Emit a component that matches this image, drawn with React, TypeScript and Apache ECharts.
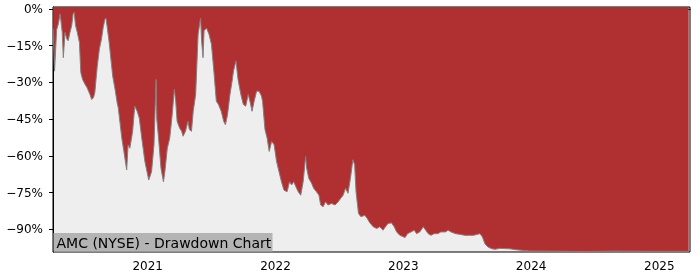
import React, { useEffect, useRef } from "react";
import * as echarts from "echarts";

const dates: string[] = [
  "2020-04-06", "2020-04-10", "2020-04-16", "2020-04-21", "2020-04-26", "2020-04-28", "2020-05-02", "2020-05-05",
  "2020-05-08", "2020-05-10", "2020-05-15", "2020-05-19", "2020-05-24", "2020-05-29", "2020-06-02", "2020-06-05",
  "2020-06-09", "2020-06-14", "2020-06-20", "2020-06-24", "2020-06-29", "2020-07-06", "2020-07-12", "2020-07-20",
  "2020-07-25", "2020-07-30", "2020-08-03", "2020-08-10", "2020-08-16", "2020-08-22", "2020-08-27", "2020-09-01",
  "2020-09-04", "2020-09-08", "2020-09-13", "2020-09-17", "2020-09-23", "2020-09-30", "2020-10-06", "2020-10-09",
  "2020-10-19", "2020-10-25", "2020-11-02", "2020-11-06", "2020-11-11", "2020-11-19", "2020-11-25", "2020-12-02",
  "2020-12-08", "2020-12-15", "2020-12-24", "2021-01-04", "2021-01-12", "2021-01-19", "2021-01-22", "2021-01-25",
  "2021-01-27", "2021-02-01", "2021-02-08", "2021-02-15", "2021-02-19", "2021-02-26", "2021-03-05", "2021-03-12",
  "2021-03-18", "2021-03-22", "2021-03-26", "2021-04-02", "2021-04-08", "2021-04-12", "2021-04-19", "2021-04-26",
  "2021-04-30", "2021-05-06", "2021-05-11", "2021-05-18", "2021-05-25", "2021-06-01", "2021-06-04", "2021-06-08",
  "2021-06-11", "2021-06-18", "2021-06-25", "2021-07-02", "2021-07-09", "2021-07-16", "2021-07-22", "2021-07-30",
  "2021-08-06", "2021-08-11", "2021-08-17", "2021-08-24", "2021-08-30", "2021-09-03", "2021-09-10", "2021-09-16",
  "2021-09-24", "2021-10-01", "2021-10-08", "2021-10-15", "2021-10-20", "2021-10-26", "2021-11-01", "2021-11-08",
  "2021-11-15", "2021-11-22", "2021-11-25", "2021-12-02", "2021-12-08", "2021-12-14", "2021-12-21", "2021-12-28",
  "2022-01-04", "2022-01-11", "2022-01-18", "2022-01-25", "2022-02-03", "2022-02-10", "2022-02-16", "2022-02-22",
  "2022-02-28", "2022-03-07", "2022-03-14", "2022-03-21", "2022-03-28", "2022-03-31", "2022-04-06", "2022-04-14",
  "2022-04-20", "2022-04-28", "2022-05-05", "2022-05-10", "2022-05-17", "2022-05-24", "2022-05-31", "2022-06-10",
  "2022-06-20", "2022-06-29", "2022-07-06", "2022-07-13", "2022-07-20", "2022-07-27", "2022-08-03", "2022-08-10",
  "2022-08-15", "2022-08-19", "2022-08-26", "2022-09-02", "2022-09-13", "2022-09-20", "2022-09-27", "2022-10-07",
  "2022-10-17", "2022-10-26", "2022-11-04", "2022-11-11", "2022-11-18", "2022-11-28", "2022-12-06", "2022-12-13",
  "2022-12-22", "2023-01-03", "2023-01-06", "2023-01-13", "2023-01-23", "2023-02-01", "2023-02-08", "2023-02-17",
  "2023-02-27", "2023-03-06", "2023-03-13", "2023-03-21", "2023-03-30", "2023-04-10", "2023-04-18", "2023-05-01",
  "2023-05-09", "2023-05-17", "2023-05-30", "2023-06-12", "2023-06-26", "2023-07-10", "2023-07-20", "2023-07-31",
  "2023-08-08", "2023-08-15", "2023-08-22", "2023-08-31", "2023-09-11", "2023-09-20", "2023-10-04", "2023-11-01",
  "2023-11-20", "2023-12-28", "2024-02-15", "2024-04-01", "2024-06-10", "2024-08-22", "2024-11-26", "2025-01-20",
  "2025-03-26",
];

const drawdown: number[] = [
  -8, -25.4, -8.5, -6, -2.0, -2.0, -9.6, -19.9,
  -13.7, -9.6, -12.3, -13.0, -9.6, -6.8, -2.0, -1.4,
  -6.8, -9.6, -13.7, -26.0, -28.8, -30.8, -32.2, -34.9,
  -37.0, -36.3, -34.2, -23.3, -16.4, -12.3, -7.5, -4.1,
  -3.8, -8.2, -13.7, -19.2, -27.4, -33.0, -38.5, -40.4,
  -52.7, -58.2, -65.8, -55.5, -56.9, -50.0, -39.7, -41.8,
  -44.6, -52.7, -62.3, -69.9, -66.5, -55.5, -42.0, -28.8,
  -45.0, -52.7, -65.1, -70.6, -66.5, -56.9, -52.7, -43.2,
  -32.9, -37.7, -45.9, -48.6, -50.0, -52.0, -50.0, -45.9,
  -49.3, -50.0, -41.8, -34.9, -10.3, -3.7, -13.0, -19.9,
  -8.9, -7.8, -10.3, -14.4, -25.4, -37.7, -39.0, -41.8,
  -45.9, -47.3, -43.2, -34.9, -29.5, -25.4, -21.2, -28.8,
  -34.9, -39.0, -39.7, -34.9, -37.7, -41.8, -37.7, -33.6,
  -33.6, -35.6, -37.7, -49.3, -52.7, -58.2, -54.1, -55.5,
  -62.3, -66.5, -70.6, -74.0, -74.7, -70.6, -71.9, -70.6,
  -72.6, -74.7, -76.1, -70.6, -60.3, -65.1, -69.2, -71.2,
  -73.3, -74.7, -76.1, -80.1, -80.8, -78.8, -80.1, -79.5,
  -80.1, -78.8, -77.4, -76.1, -73.3, -75.3, -69.2, -61.6,
  -63.7, -74.7, -83.6, -84.9, -84.3, -85.6, -87.3, -89.0,
  -89.7, -89.0, -90.4, -89.0, -87.7, -87.4, -89.0, -91.1,
  -92.5, -93.2, -93.4, -91.8, -91.1, -90.4, -91.8, -91.1,
  -89.0, -90.4, -91.8, -92.5, -91.8, -91.8, -91.1, -91.1,
  -90.4, -91.1, -91.8, -92.1, -92.5, -92.5, -92.5, -92.1,
  -91.8, -93.2, -95.9, -97.3, -98.0, -98.2, -97.8, -98.0,
  -98.4, -98.9, -98.9, -99.0, -99.1, -98.9, -99.0, -99.0,
  -99.0,
];

const yearTicks: number[] = [2021, 2022, 2023, 2024, 2025];
const yTicks: number[] = [0, -15, -30, -45, -60, -75, -90];
const titleText = "AMC (NYSE) - Drawdown Chart";

const toUTC = (s: string) => {
  const [y, m, d] = s.split("-").map(Number);
  return Date.UTC(y, m - 1, d);
};

export default function App() {
  const ref = useRef<HTMLDivElement>(null);
  useEffect(() => {
    if (!ref.current) return;
    const chart = echarts.init(ref.current, null, { renderer: "svg" });
    const font = "DejaVu Sans";
    const data = dates.map((d, i) => [toUTC(d), drawdown[i]]);
    const xTickValues = yearTicks.map((y) => Date.UTC(y, 0, 1));
    chart.setOption({
      animation: false,
      grid: {
        left: 53,
        right: 10,
        top: 7,
        bottom: 28,
        show: true,
        backgroundColor: "#eeeeee",
        borderColor: "#000",
        borderWidth: 1,
      },
      xAxis: {
        type: "value",
        min: Date.UTC(2020, 3, 5, 14),
        max: Date.UTC(2025, 2, 29, 17),
        axisLine: { show: true, lineStyle: { color: "#000", width: 1 } },
        axisTick: {
          show: true,
          length: 4,
          lineStyle: { color: "#000" },
          customValues: xTickValues,
        },
        axisLabel: {
          customValues: xTickValues,
          formatter: (v: number) => String(new Date(v).getUTCFullYear()),
          color: "#000",
          fontFamily: font,
          fontSize: 12,
          margin: 8,
        },
        splitLine: { show: false },
      },
      yAxis: {
        type: "value",
        min: -99.3,
        max: 0.8,
        axisLine: { show: true, lineStyle: { color: "#000", width: 1 } },
        axisTick: {
          show: true,
          length: 4,
          lineStyle: { color: "#000" },
          customValues: yTicks,
        },
        axisLabel: {
          customValues: yTicks,
          formatter: (v: number) => (v < 0 ? "\u2212" : "") + Math.abs(v) + "%",
          color: "#000",
          fontFamily: font,
          fontSize: 12,
          margin: 10,
        },
        splitLine: { show: false },
      },
      series: [
        {
          type: "line",
          data,
          showSymbol: false,
          symbol: "none",
          lineStyle: { color: "#808080", width: 1 },
          areaStyle: { color: "#b03032", opacity: 1, origin: "end" },
          z: 2,
        },
      ],
      graphic: [
        {
          type: "rect",
          shape: { x: 53.5, y: 233, width: 219, height: 18.5 },
          style: { fill: "#b4b4b4" },
          z: 100,
        },
        {
          type: "text",
          x: 56.5,
          y: 242.5,
          style: {
            text: titleText,
            fill: "#000",
            font: `14px "${font}"`,
            verticalAlign: "middle",
            align: "left",
          },
          z: 101,
        },
      ],
    });
    return () => chart.dispose();
  }, []);
  return (
    <div
      ref={ref}
      style={{ position: "fixed", left: 0, top: 0, width: 700, height: 280 }}
    />
  );
}
